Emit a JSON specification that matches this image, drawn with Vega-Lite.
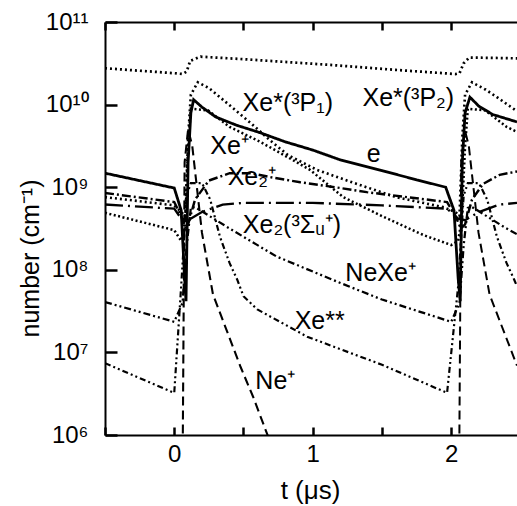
{
  "$schema": "https://vega.github.io/schema/vega-lite/v6.json",
  "width": 412,
  "height": 413,
  "autosize": {"type": "none"},
  "padding": {"left": 105, "top": 22, "right": 0, "bottom": 71},
  "config": {
    "font": "Liberation Sans",
    "view": {"stroke": null},
    "axis": {"grid": false, "domainColor": "black", "domainWidth": 2, "tickColor": "black", "tickWidth": 2.5, "labelColor": "black", "titleColor": "black", "labelFont": "Liberation Sans", "titleFont": "Liberation Sans", "titleFontWeight": "normal"}
  },
  "resolve": {"axis": {"x": "independent"}},
  "layer": [
    {
      "data": {"values": [
        {"s":"e","t":-0.5,"n":1.479e9},{"s":"e","t":-0.25,"n":1.202e9},{"s":"e","t":0.0,"n":9.772e8},{"s":"e","t":0.05,"n":5.248e8},{"s":"e","t":0.075,"n":7.943e7},{"s":"e","t":0.085,"n":4.169e7},{"s":"e","t":0.1,"n":1.995e9},{"s":"e","t":0.12,"n":7.943e9},{"s":"e","t":0.14,"n":1.148e10},{"s":"e","t":0.2,"n":9.333e9},{"s":"e","t":0.3,"n":7.079e9},{"s":"e","t":0.45,"n":5.623e9},{"s":"e","t":0.62,"n":4.571e9},{"s":"e","t":0.8,"n":3.548e9},{"s":"e","t":1.0,"n":2.818e9},{"s":"e","t":1.2,"n":2.138e9},{"s":"e","t":1.5,"n":1.585e9},{"s":"e","t":1.75,"n":1.23e9},{"s":"e","t":1.96,"n":1.0e9},{"s":"e","t":2.02,"n":5.248e8},{"s":"e","t":2.05,"n":7.943e7},{"s":"e","t":2.065,"n":4.169e7},{"s":"e","t":2.08,"n":1.995e9},{"s":"e","t":2.1,"n":7.943e9},{"s":"e","t":2.135,"n":1.23e10},{"s":"e","t":2.2,"n":9.55e9},{"s":"e","t":2.3,"n":7.586e9},{"s":"e","t":2.475,"n":6.166e9},
        {"s":"P2","t":-0.5,"n":2.754e10},{"s":"P2","t":0.0,"n":2.399e10},{"s":"P2","t":0.06,"n":2.344e10},{"s":"P2","t":0.09,"n":2.512e10},{"s":"P2","t":0.115,"n":3.388e10},{"s":"P2","t":0.19,"n":3.802e10},{"s":"P2","t":0.5,"n":3.548e10},{"s":"P2","t":1.13,"n":3.02e10},{"s":"P2","t":1.6,"n":2.63e10},{"s":"P2","t":2.03,"n":2.344e10},{"s":"P2","t":2.06,"n":2.399e10},{"s":"P2","t":2.09,"n":3.162e10},{"s":"P2","t":2.13,"n":3.715e10},{"s":"P2","t":2.475,"n":3.631e10},
        {"s":"P1","t":-0.5,"n":7.586e8},{"s":"P1","t":0.0,"n":6.026e8},{"s":"P1","t":0.05,"n":5.012e8},{"s":"P1","t":0.08,"n":4.467e8},{"s":"P1","t":0.1,"n":3.981e9},{"s":"P1","t":0.12,"n":1.318e10},{"s":"P1","t":0.17,"n":1.862e10},{"s":"P1","t":0.25,"n":1.585e10},{"s":"P1","t":0.33,"n":1.23e10},{"s":"P1","t":0.55,"n":6.026e9},{"s":"P1","t":0.69,"n":3.715e9},{"s":"P1","t":0.82,"n":2.455e9},{"s":"P1","t":1.03,"n":1.622e9},{"s":"P1","t":1.3,"n":1.122e9},{"s":"P1","t":1.6,"n":7.586e8},{"s":"P1","t":1.94,"n":5.754e8},{"s":"P1","t":2.03,"n":5.012e8},{"s":"P1","t":2.06,"n":4.467e8},{"s":"P1","t":2.08,"n":3.981e9},{"s":"P1","t":2.1,"n":1.318e10},{"s":"P1","t":2.15,"n":1.862e10},{"s":"P1","t":2.25,"n":1.514e10},{"s":"P1","t":2.33,"n":1.23e10},{"s":"P1","t":2.475,"n":8.318e9},
        {"s":"Xe+","t":-0.5,"n":4.898e8},{"s":"Xe+","t":0.0,"n":3.02e8},{"s":"Xe+","t":0.05,"n":2.239e8},{"s":"Xe+","t":0.08,"n":3.981e8},{"s":"Xe+","t":0.1,"n":3.162e9},{"s":"Xe+","t":0.12,"n":8.913e9},{"s":"Xe+","t":0.245,"n":8.511e9},{"s":"Xe+","t":0.4,"n":5.37e9},{"s":"Xe+","t":0.62,"n":3.548e9},{"s":"Xe+","t":0.77,"n":2.57e9},{"s":"Xe+","t":0.98,"n":1.622e9},{"s":"Xe+","t":1.22,"n":7.586e8},{"s":"Xe+","t":1.5,"n":4.467e8},{"s":"Xe+","t":1.8,"n":2.63e8},{"s":"Xe+","t":2.0,"n":1.995e8},{"s":"Xe+","t":2.05,"n":2.239e8},{"s":"Xe+","t":2.075,"n":3.981e8},{"s":"Xe+","t":2.1,"n":3.162e9},{"s":"Xe+","t":2.12,"n":8.913e9},{"s":"Xe+","t":2.245,"n":8.511e9},{"s":"Xe+","t":2.4,"n":5.37e9},{"s":"Xe+","t":2.475,"n":4.677e9},
        {"s":"Xe2+","t":-0.5,"n":8.511e8},{"s":"Xe2+","t":0.0,"n":6.607e8},{"s":"Xe2+","t":0.05,"n":4.467e8},{"s":"Xe2+","t":0.08,"n":3.162e8},{"s":"Xe2+","t":0.1,"n":3.548e8},{"s":"Xe2+","t":0.15,"n":7.079e8},{"s":"Xe2+","t":0.25,"n":1.202e9},{"s":"Xe2+","t":0.4,"n":1.479e9},{"s":"Xe2+","t":0.55,"n":1.479e9},{"s":"Xe2+","t":0.7,"n":1.318e9},{"s":"Xe2+","t":0.91,"n":1.148e9},{"s":"Xe2+","t":1.2,"n":9.772e8},{"s":"Xe2+","t":1.39,"n":8.71e8},{"s":"Xe2+","t":1.97,"n":6.607e8},{"s":"Xe2+","t":2.03,"n":4.467e8},{"s":"Xe2+","t":2.07,"n":3.162e8},{"s":"Xe2+","t":2.1,"n":3.548e8},{"s":"Xe2+","t":2.15,"n":7.079e8},{"s":"Xe2+","t":2.23,"n":1.096e9},{"s":"Xe2+","t":2.35,"n":1.413e9},{"s":"Xe2+","t":2.475,"n":1.549e9},
        {"s":"Xe2S","t":-0.5,"n":6.166e8},{"s":"Xe2S","t":0.0,"n":5.495e8},{"s":"Xe2S","t":0.05,"n":4.169e8},{"s":"Xe2S","t":0.1,"n":3.981e8},{"s":"Xe2S","t":0.2,"n":5.012e8},{"s":"Xe2S","t":0.35,"n":6.166e8},{"s":"Xe2S","t":0.5,"n":6.457e8},{"s":"Xe2S","t":1.0,"n":6.457e8},{"s":"Xe2S","t":1.5,"n":6.026e8},{"s":"Xe2S","t":1.97,"n":5.495e8},{"s":"Xe2S","t":2.05,"n":4.169e8},{"s":"Xe2S","t":2.1,"n":3.981e8},{"s":"Xe2S","t":2.2,"n":5.012e8},{"s":"Xe2S","t":2.35,"n":6.166e8},{"s":"Xe2S","t":2.475,"n":6.457e8},
        {"s":"NeXe+","t":-0.5,"n":4.074e7},{"s":"NeXe+","t":0.0,"n":2.344e7},{"s":"NeXe+","t":0.06,"n":3.981e7},{"s":"NeXe+","t":0.09,"n":1.995e8},{"s":"NeXe+","t":0.12,"n":5.623e8},{"s":"NeXe+","t":0.15,"n":5.754e8},{"s":"NeXe+","t":0.38,"n":3.311e8},{"s":"NeXe+","t":0.74,"n":1.445e8},{"s":"NeXe+","t":1.2,"n":6.918e7},{"s":"NeXe+","t":1.5,"n":4.365e7},{"s":"NeXe+","t":2.0,"n":2.344e7},{"s":"NeXe+","t":2.06,"n":3.981e7},{"s":"NeXe+","t":2.09,"n":1.995e8},{"s":"NeXe+","t":2.12,"n":5.623e8},{"s":"NeXe+","t":2.15,"n":5.754e8},{"s":"NeXe+","t":2.38,"n":3.311e8},{"s":"NeXe+","t":2.475,"n":2.692e8},
        {"s":"Xe**","t":-0.5,"n":7.413e6},{"s":"Xe**","t":0.0,"n":3.236e6},{"s":"Xe**","t":0.05,"n":6.31e7},{"s":"Xe**","t":0.09,"n":7.943e8},{"s":"Xe**","t":0.12,"n":1.122e9},{"s":"Xe**","t":0.2,"n":1.122e9},{"s":"Xe**","t":0.26,"n":7.079e8},{"s":"Xe**","t":0.33,"n":2.512e8},{"s":"Xe**","t":0.4,"n":1.202e8},{"s":"Xe**","t":0.455,"n":7.586e7},{"s":"Xe**","t":0.5,"n":4.786e7},{"s":"Xe**","t":0.6,"n":3.311e7},{"s":"Xe**","t":0.96,"n":1.549e7},{"s":"Xe**","t":1.5,"n":7.079e6},{"s":"Xe**","t":1.97,"n":3.236e6},{"s":"Xe**","t":2.05,"n":6.31e7},{"s":"Xe**","t":2.09,"n":7.943e8},{"s":"Xe**","t":2.12,"n":1.122e9},{"s":"Xe**","t":2.2,"n":1.122e9},{"s":"Xe**","t":2.26,"n":7.079e8},{"s":"Xe**","t":2.33,"n":2.512e8},{"s":"Xe**","t":2.4,"n":1.202e8},{"s":"Xe**","t":2.455,"n":7.586e7},{"s":"Xe**","t":2.475,"n":6.31e7},
        {"s":"Ne+","t":0.058,"n":1.0e5},{"s":"Ne+","t":0.075,"n":1.995e9},{"s":"Ne+","t":0.1,"n":5.012e9},{"s":"Ne+","t":0.13,"n":3.162e9},{"s":"Ne+","t":0.2,"n":2.818e8},{"s":"Ne+","t":0.28,"n":5.012e7},{"s":"Ne+","t":0.48,"n":6.607e6},{"s":"Ne+","t":0.57,"n":2.884e6},{"s":"Ne+","t":0.66,"n":1.148e6},{"s":"Ne+","t":0.72,"n":6.31e5},
        {"s":"Ne+b","t":2.055,"n":1.0e5},{"s":"Ne+b","t":2.072,"n":1.995e9},{"s":"Ne+b","t":2.097,"n":5.012e9},{"s":"Ne+b","t":2.127,"n":3.162e9},{"s":"Ne+b","t":2.197,"n":2.818e8},{"s":"Ne+b","t":2.277,"n":5.012e7},{"s":"Ne+b","t":2.475,"n":6.918e6}
      ]},
      "mark": {"type": "line", "clip": true, "color": "black", "strokeCap": "butt"},
      "encoding": {
        "x": {"field": "t", "type": "quantitative", "scale": {"domain": [-0.5, 2.475], "nice": false, "zero": false},
              "axis": {"orient": "bottom", "values": [-0.5, 0, 0.5, 1, 1.5, 2], "tickSize": -8, "labelPadding": 15, "labelFontSize": 24, "labelExpr": "datum.value == 0 ? '0' : datum.value == 1 ? '1' : datum.value == 2 ? '2' : ''", "title": "t (μs)", "titleFontSize": 26, "titleX": 205, "titleY": 55, "titleAlign": "center", "titleBaseline": "middle", "labelFlush": false}},
        "y": {"field": "n", "type": "quantitative", "scale": {"type": "log", "domain": [1000000, 100000000000], "nice": false},
              "axis": {"orient": "left", "values": [1000000, 10000000, 100000000, 1000000000, 10000000000, 100000000000], "tickSize": -12, "labelPadding": 29, "labelFontSize": 24, "labelExpr": "datum.value > 9e10 ? '10¹¹' : datum.value > 9e9 ? '10¹⁰' : datum.value > 9e8 ? '10⁹' : datum.value > 9e7 ? '10⁸' : datum.value > 9e6 ? '10⁷' : '10⁶'", "title": "number (cm⁻¹)", "titleFontSize": 25, "titleAngle": 270, "titleX": -75, "titleY": 236, "titleAlign": "center", "titleBaseline": "middle", "labelFlush": false, "labelOverlap": false}},
        "detail": {"field": "s"},
        "strokeDash": {"field": "s", "type": "nominal", "legend": null,
          "scale": {"domain": ["e", "P2", "P1", "Xe+", "Xe2+", "Xe2S", "NeXe+", "Xe**", "Ne+", "Ne+b"],
                    "range": [[1, 0], [2, 3], [2, 3], [2, 2.5], [9, 3, 2, 3], [18, 5, 2, 5], [7, 3, 2, 3, 2, 3], [6, 3, 2, 3, 2, 3], [9, 5], [9, 5]]}},
        "strokeWidth": {"field": "s", "type": "nominal", "legend": null,
          "scale": {"domain": ["e", "P2", "P1", "Xe+", "Xe2+", "Xe2S", "NeXe+", "Xe**", "Ne+", "Ne+b"],
                    "range": [2.8, 2, 2, 2, 2, 2, 2, 2, 2.2, 2.2]}}
      }
    },
    {
      "data": {"values": [
        {"label": "Xe*(³P₁)", "t": 0.82, "n": 1.047e10},
        {"label": "Xe*(³P₂)", "t": 1.69, "n": 1.202e10},
        {"label": "Xe⁺", "t": 0.40, "n": 3.162e9},
        {"label": "Xe₂⁺", "t": 0.56, "n": 1.318e9},
        {"label": "e", "t": 1.44, "n": 2.512e9},
        {"label": "Xe₂(³Σᵤ⁺)", "t": 0.85, "n": 3.467e8},
        {"label": "NeXe⁺", "t": 1.49, "n": 9.12e7},
        {"label": "Xe**", "t": 1.05, "n": 2.399e7},
        {"label": "Ne⁺", "t": 0.73, "n": 4.467e6}
      ]},
      "mark": {"type": "text", "font": "Liberation Sans", "fontSize": 25, "align": "center", "baseline": "middle", "color": "black"},
      "encoding": {
        "x": {"field": "t", "type": "quantitative", "scale": {"domain": [-0.5, 2.475], "nice": false, "zero": false},
              "axis": {"orient": "top", "values": [-0.5, 0, 0.5, 1, 1.5, 2], "tickSize": -8, "labels": false, "title": null}},
        "y": {"field": "n", "type": "quantitative", "scale": {"type": "log", "domain": [1000000, 100000000000], "nice": false},
              "axis": {"orient": "left", "values": [1000000, 10000000, 100000000, 1000000000, 10000000000, 100000000000], "tickSize": -12, "labelPadding": 29, "labelFontSize": 24, "labelExpr": "datum.value > 9e10 ? '10¹¹' : datum.value > 9e9 ? '10¹⁰' : datum.value > 9e8 ? '10⁹' : datum.value > 9e7 ? '10⁸' : datum.value > 9e6 ? '10⁷' : '10⁶'", "title": "number (cm⁻¹)", "titleFontSize": 25, "titleAngle": 270, "titleX": -75, "titleY": 236, "titleAlign": "center", "titleBaseline": "middle", "labelFlush": false, "labelOverlap": false}},
        "text": {"field": "label"}
      }
    }
  ]
}
